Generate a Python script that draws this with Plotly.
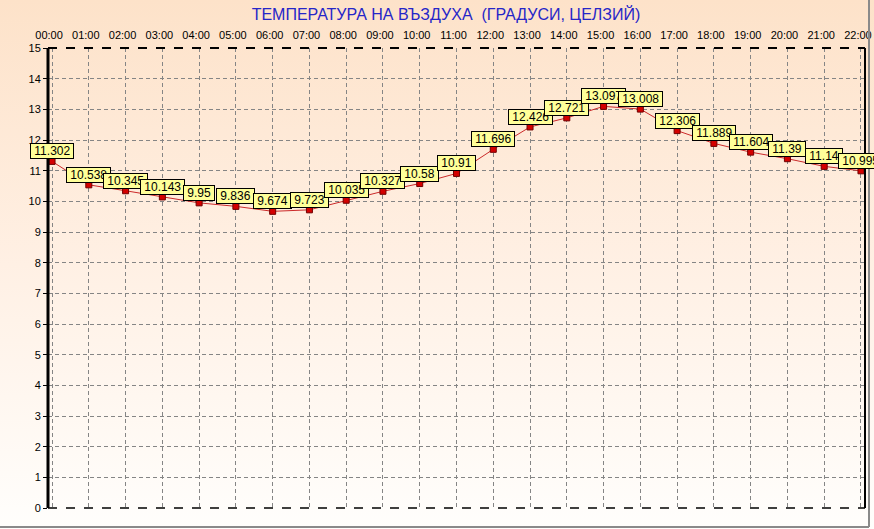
import base64
import plotly.graph_objects as go

hours = ["%02d:00" % h for h in range(23)]
temps = [11.302, 10.538, 10.345, 10.143, 9.95, 9.836, 9.674, 9.723, 10.035, 10.327,
         10.58, 10.91, 11.696, 12.426, 12.721, 13.097, 13.008, 12.306, 11.889, 11.604,
         11.39, 11.14, 10.995]
y_ticks = list(range(16))

W, H = 874, 529
ml, mr, mt, mb = 48, 9, 48, 21
pw, ph = W - ml - mr, H - mt - mb

# vertical gradient background as an inline svg
svg = ('<svg xmlns="http://www.w3.org/2000/svg" width="10" height="100" viewBox="0 0 10 100" '
       'preserveAspectRatio="none"><defs><linearGradient id="g" x1="0" y1="0" x2="0" y2="1">'
       '<stop offset="0" stop-color="#fde2c9"/><stop offset="0.5" stop-color="#fff0e4"/>'
       '<stop offset="1" stop-color="#fffefc"/></linearGradient></defs>'
       '<rect width="10" height="100" fill="url(#g)"/></svg>')
bg_src = "data:image/svg+xml;base64," + base64.b64encode(svg.encode()).decode()

x = list(range(len(hours)))

fig = go.Figure()
fig.add_trace(go.Scatter(
    x=x, y=temps, mode="lines+markers",
    line=dict(color="#cc2a2a", width=1),
    marker=dict(symbol="square", size=6, color="#d40000", line=dict(color="#700000", width=1)),
    hoverinfo="y", showlegend=False,
))

for xi, t in zip(x, temps):
    fig.add_annotation(
        x=xi, y=t, text="\u00a0" + str(t) + "\u00a0", showarrow=False,
        yanchor="bottom", xanchor="center", yshift=2,
        bgcolor="#ffff99", bordercolor="black", borderwidth=1, borderpad=0,
        font=dict(family="Liberation Sans, Arial", size=12, color="black"),
    )

fig.add_layout_image(dict(
    source=bg_src, xref="paper", yref="paper",
    x=-ml / pw, y=(ph + mt) / ph, sizex=W / pw, sizey=H / ph,
    xanchor="left", yanchor="top", sizing="stretch", layer="below",
))

# plot frame
fig.add_shape(type="line", xref="paper", yref="paper", x0=0, x1=0, y0=0, y1=1,
              line=dict(color="black", width=3))
fig.add_shape(type="line", xref="paper", yref="paper", x0=1, x1=1, y0=0, y1=1,
              line=dict(color="black", width=2))
fig.add_shape(type="line", xref="paper", yref="paper", x0=0, x1=1, y0=1, y1=1,
              line=dict(color="black", width=2, dash="dash"))
fig.add_shape(type="line", xref="paper", yref="paper", x0=0, x1=1, y0=0, y1=0,
              line=dict(color="black", width=1.5, dash="dash"))
# window edge
edge_x = (869 - ml) / pw
edge_y = (mt + ph - 527) / ph
fig.add_shape(type="line", xref="paper", yref="paper",
              x0=-ml / pw, x1=edge_x, y0=edge_y, y1=edge_y,
              line=dict(color="#8a8a8a", width=2))
fig.add_shape(type="line", xref="paper", yref="paper",
              x0=edge_x, x1=edge_x, y0=edge_y, y1=(mt + ph) / ph,
              line=dict(color="#8a8a8a", width=2))

fig.update_xaxes(
    side="top", range=[-0.11, 22.11], tickmode="array", tickvals=x, ticktext=hours,
    showgrid=True, gridcolor="#858585", griddash="4px,3px", gridwidth=1,
    zeroline=False, showline=False, ticks="", ticklabelstandoff=6,
    ticklabeloverflow="allow", ticklabelshift=-3, automargin=False,
    tickfont=dict(family="Liberation Sans, Arial", size=11, color="black"),
)
fig.update_yaxes(
    range=[0, 15], tickvals=y_ticks, automargin=False,
    showgrid=True, gridcolor="#858585", griddash="4px,3px", gridwidth=1,
    zeroline=False, showline=False, ticks="outside", ticklen=4, tickcolor="black",
    tickfont=dict(family="Liberation Sans, Arial", size=11, color="black"),
)

fig.update_layout(
    width=W, height=H,
    margin=dict(l=ml, r=mr, t=mt, b=mb, pad=0),
    paper_bgcolor="white", plot_bgcolor="rgba(0,0,0,0)",
    title=dict(text="ТЕМПЕРАТУРА НА ВЪЗДУХА  (ГРАДУСИ, ЦЕЛЗИЙ)",
               x=446 / W, xanchor="center", y=1 - 14 / H, yanchor="middle",
               font=dict(family="Liberation Sans, Arial", size=16, color="#2626c8")),
)

fig.write_html("out.html", config={"displayModeBar": False},
               post_script="document.body.style.margin='0';")
